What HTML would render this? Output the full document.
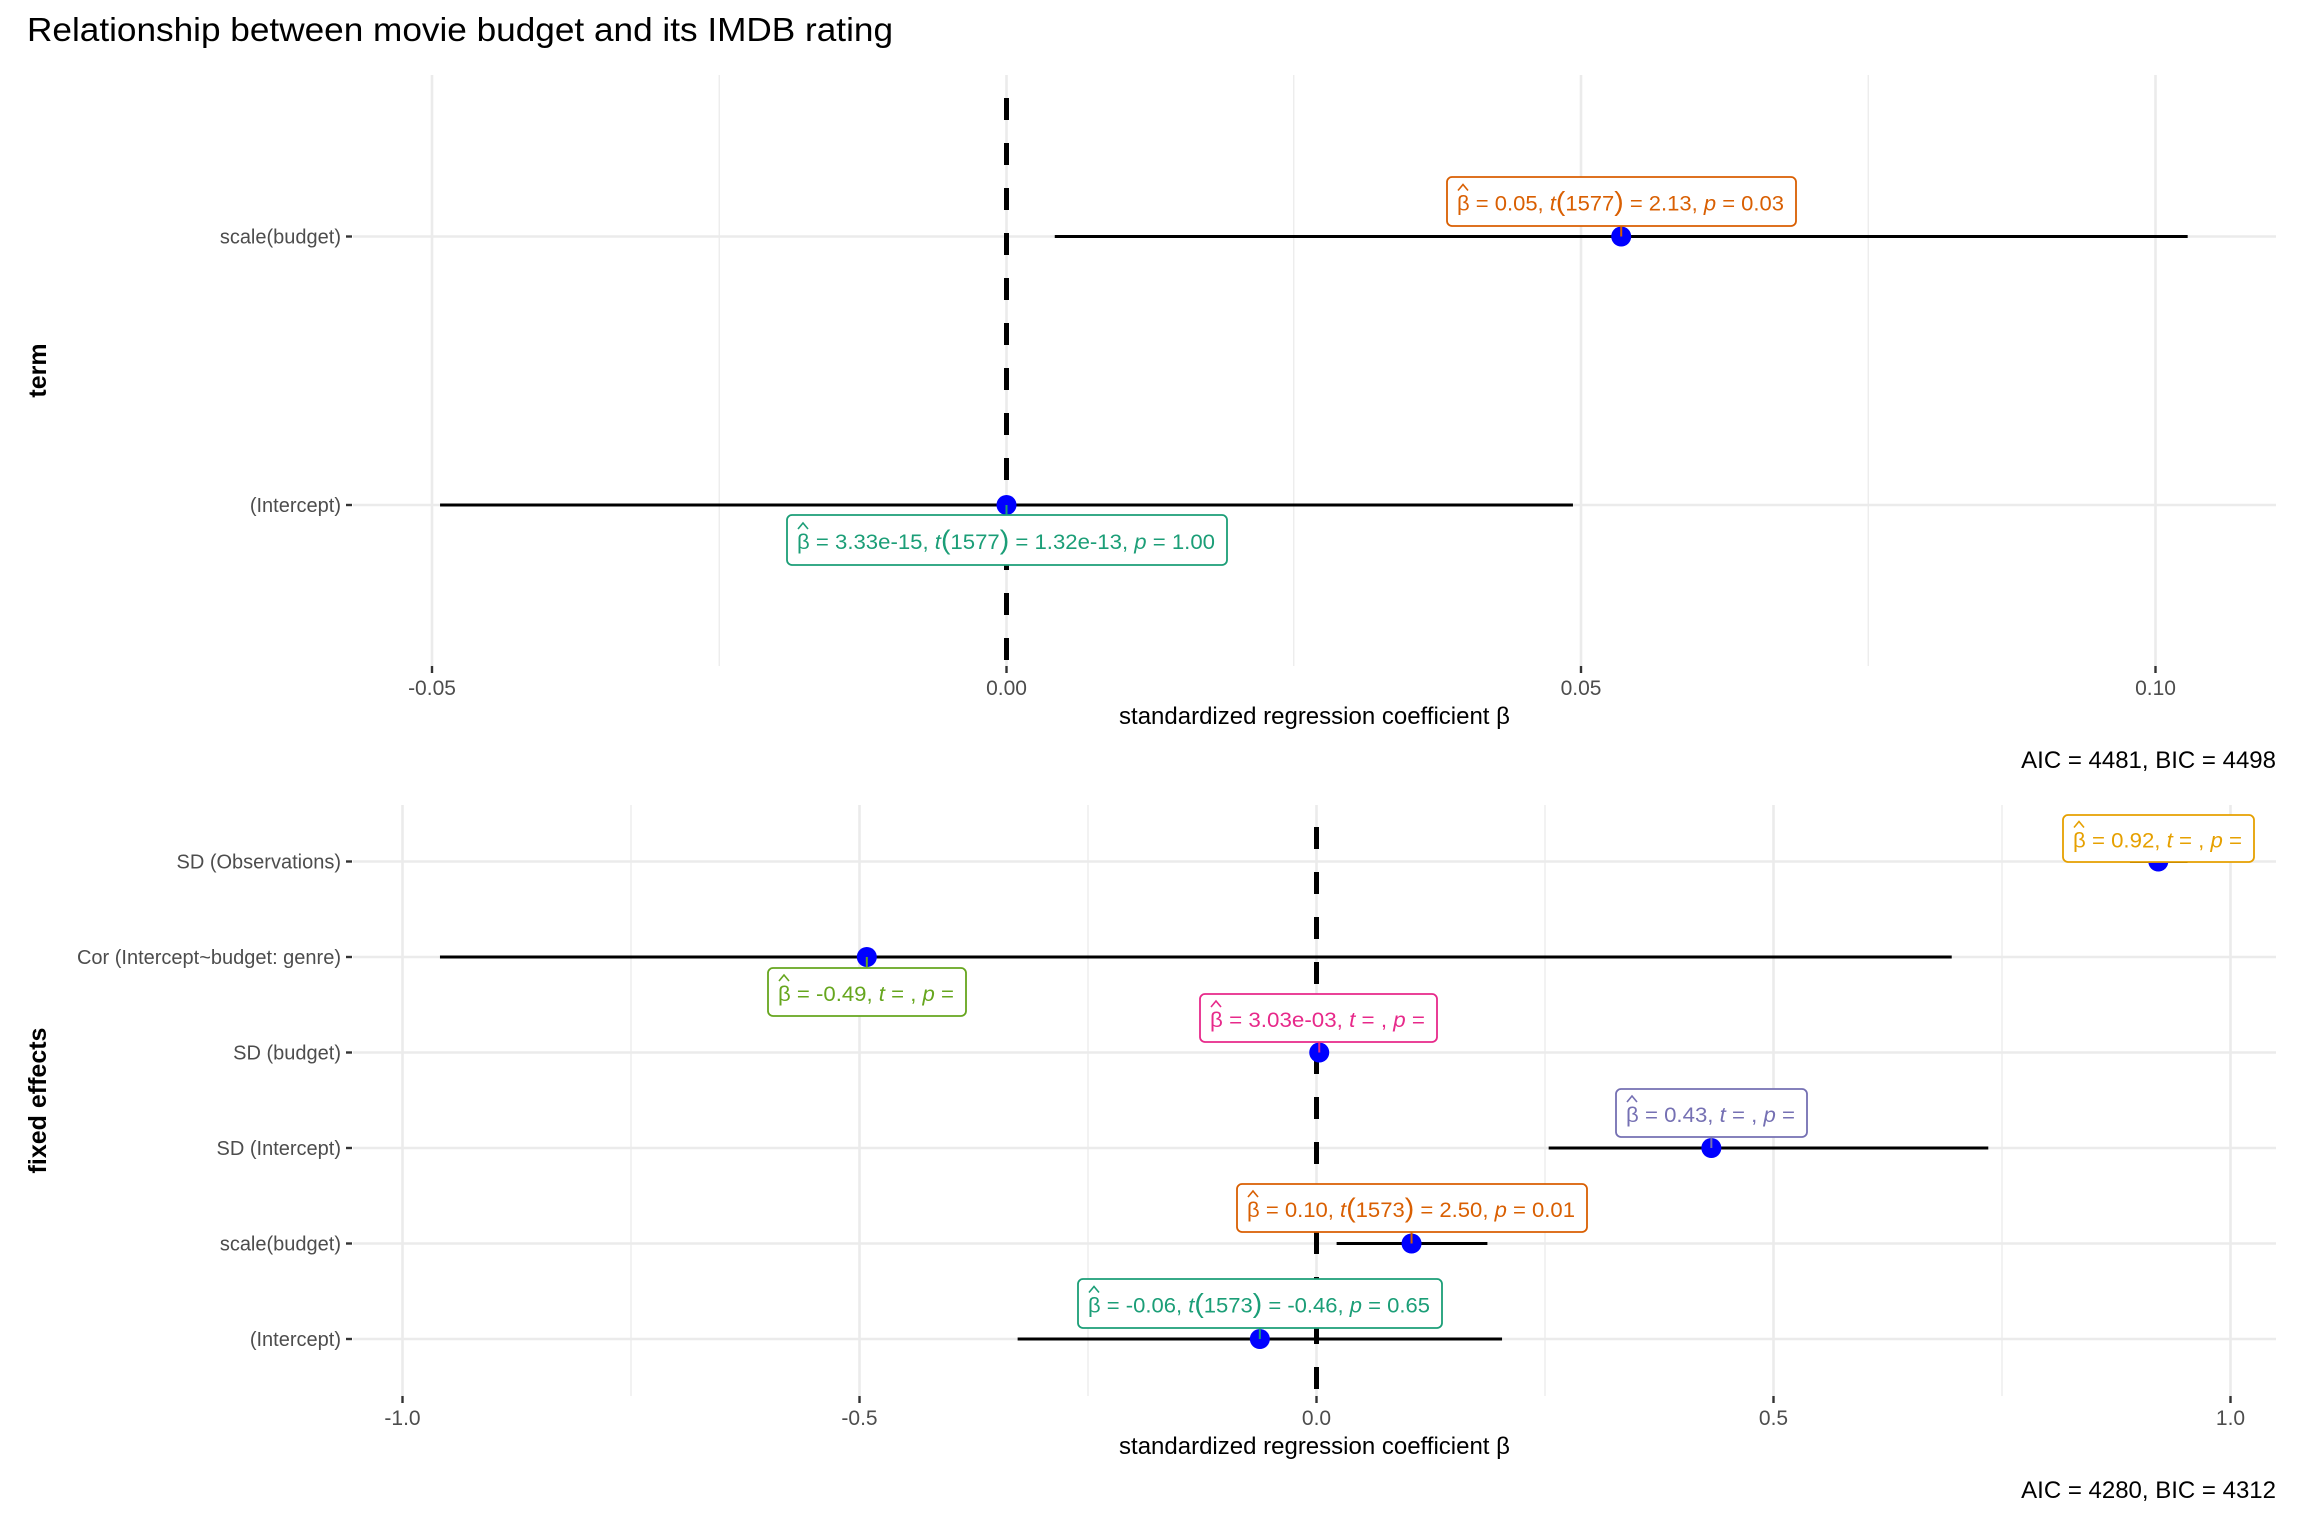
<!DOCTYPE html>
<html><head><meta charset="utf-8">
<style>
html,body{margin:0;padding:0;background:#fff;}
svg{display:block;font-family:"Liberation Sans",Arial,sans-serif;}
</style></head>
<body>
<svg id="chart" width="2304" height="1536" viewBox="0 0 2304 1536" xmlns="http://www.w3.org/2000/svg">
<text x="27" y="41" font-size="33" fill="#000" textLength="866" lengthAdjust="spacingAndGlyphs">Relationship between movie budget and its IMDB rating</text>
</svg>
<script>
// ---- Top panel data ----
const topTerms = ["scale(budget)", "(Intercept)"];
const topEst = [0.0535, 0.0];
const topLow = [0.0042, -0.0493];
const topHigh = [0.1028, 0.0493];
const topLabels = [
  {b:"0.05", t:"t", df:"(1577)", tv:"2.13", p:"0.03"},
  {b:"3.33e-15", t:"t", df:"(1577)", tv:"1.32e-13", p:"1.00"}
];
const topColors = ["#D95F02", "#1B9E77"];
const topTicks = [-0.05, 0.00, 0.05, 0.10];
const topTickLabels = ["-0.05", "0.00", "0.05", "0.10"];

// ---- Bottom panel data ----
const botTerms = ["SD (Observations)", "Cor (Intercept~budget: genre)", "SD (budget)", "SD (Intercept)", "scale(budget)", "(Intercept)"];
const botEst = [0.921, -0.492, 0.003, 0.432, 0.104, -0.062];
const botLow = [0.89, -0.959, 0.003, 0.254, 0.022, -0.327];
const botHigh = [0.953, 0.695, 0.003, 0.735, 0.187, 0.203];
const botLabels = [
  {b:"0.92", t:"t", df:"", tv:"", p:""},
  {b:"-0.49", t:"t", df:"", tv:"", p:""},
  {b:"3.03e-03", t:"t", df:"", tv:"", p:""},
  {b:"0.43", t:"t", df:"", tv:"", p:""},
  {b:"0.10", t:"t", df:"(1573)", tv:"2.50", p:"0.01"},
  {b:"-0.06", t:"t", df:"(1573)", tv:"-0.46", p:"0.65"}
];
const botColors = ["#E6A000", "#66A61E", "#E7298A", "#7570B3", "#D95F02", "#1B9E77"];
const botTicks = [-1.0, -0.5, 0.0, 0.5, 1.0];
const botTickLabels = ["-1.0", "-0.5", "0.0", "0.5", "1.0"];

const svg = document.getElementById('chart');
const NS = "http://www.w3.org/2000/svg";
function mk(tag, attrs, parent){
  const e = document.createElementNS(NS, tag);
  for (const k in attrs) e.setAttribute(k, attrs[k]);
  (parent||svg).appendChild(e);
  return e;
}

function drawPanel(cfg){
  const g = mk('g', {});
  
  
  const x = v => cfg.x0 + (v - cfg.v0) * cfg.pxPerUnit;
  const y = i => cfg.rowTop + i * cfg.rowStep;
  for (let i = 0; i < cfg.ticks.length - 1; i++){
    const m = (cfg.ticks[i] + cfg.ticks[i+1]) / 2;
    const l = mk('line', {x1:x(m), x2:x(m), y1:cfg.top, y2:cfg.bottom, stroke:'#EBEBEB', 'stroke-width':1.3}, g);
    
    
  }
  cfg.ticks.forEach((t, i) => {
    const l = mk('line', {x1:x(t), x2:x(t), y1:cfg.top, y2:cfg.bottom, stroke:'#EBEBEB', 'stroke-width':2.6}, g);
    
    
    const tk = mk('line', {x1:x(t), x2:x(t), y1:cfg.bottom, y2:cfg.bottom+7, stroke:'#333', 'stroke-width':2.4}, g);
    
    
    const tl = mk('text', {x:x(t), y:cfg.tickY, 'font-size':21, fill:'#4D4D4D', 'text-anchor':'middle'}, g);
    
    
    tl.textContent = cfg.tickLabels[i];
  });
  cfg.terms.forEach((term, i) => {
    const l = mk('line', {x1:cfg.left, x2:cfg.right, y1:y(i), y2:y(i), stroke:'#EBEBEB', 'stroke-width':2.6}, g);
    
    
    const tk = mk('line', {x1:cfg.left-7, x2:cfg.left-1, y1:y(i), y2:y(i), stroke:'#333', 'stroke-width':2.4}, g);
    
    
    const tl = mk('text', {x:cfg.left-12, y:y(i)+7, 'font-size':20, fill:'#4D4D4D', 'text-anchor':'end'}, g);
    
    
    tl.textContent = term;
  });
  const z = mk('line', {x1:x(0), x2:x(0), y1:cfg.dashTop, y2:cfg.bottom, stroke:'#000', 'stroke-width':5, 'stroke-dasharray':'22 23'}, g);
  
  
  cfg.terms.forEach((term, i) => {
    const ci = mk('line', {x1:x(cfg.low[i]), x2:x(cfg.high[i]), y1:y(i), y2:y(i), stroke:'#000', 'stroke-width':3}, g);
    
    
    const pt = mk('ellipse', {cx:x(cfg.est[i]), cy:y(i), rx:10, ry:10, fill:'#0000FF'}, g);
    
    
  });
  cfg.terms.forEach((term, i) => {
    const b = cfg.boxes[i];
    const L = cfg.labels[i];
    const c = cfg.colors[i];
    const bg = mk('g', {}, g);
    
    
    const seg = mk('line', {x1:x(cfg.est[i]), x2:x(cfg.est[i]), y1:y(i), y2:(b.y1 < y(i) ? b.y1+b.h : b.y1), stroke:c, 'stroke-width':2}, bg);
    
    
    const r = mk('rect', {x:b.x1, y:b.y1, width:b.w, height:b.h, rx:5, fill:'#fff', stroke:c, 'stroke-width':1.8}, bg);
    
    
    const base = b.y1+b.h/2+9;
    const hat = mk('path', {d:`M${b.x1+11} ${base-20} L${b.x1+16} ${base-26} L${b.x1+21} ${base-20}`, fill:'none', stroke:c, 'stroke-width':1.6}, bg);
    
    
    const t = mk('text', {x:b.x1+10, y:base, 'font-size':21, fill:c, textLength:b.w-22, lengthAdjust:'spacingAndGlyphs'}, bg);
    
    
    let s = `<tspan>β = ${L.b}, </tspan><tspan font-style="italic">t</tspan>`;
    if (L.df) s += `<tspan font-size="27">(</tspan><tspan>${L.df.replace(/[()]/g,'')}</tspan><tspan font-size="27">)</tspan>`;
    s += `<tspan> = ${L.tv}, </tspan><tspan font-style="italic">p</tspan><tspan> = ${L.p}</tspan>`;
    t.innerHTML = s;
  });
  const xt = mk('text', {x:(cfg.left+cfg.right)/2, y:cfg.xTitleY, 'font-size':24, fill:'#000', 'text-anchor':'middle'}, g);
  
  
  xt.textContent = 'standardized regression coefficient β';
  const cy = (cfg.top+cfg.bottom)/2;
  const yt = mk('text', {x:0, y:0, 'font-size':25, 'font-weight':'bold', fill:'#000', 'text-anchor':'middle', transform:`translate(46,${cy}) rotate(-90)`}, g);
  
  
  yt.textContent = cfg.yTitle;
  const cap = mk('text', {x:cfg.right, y:cfg.capY, 'font-size':24, fill:'#000', 'text-anchor':'end'}, g);
  
  
  cap.textContent = cfg.caption;
}

drawPanel({
  name:'top-panel', terms:topTerms, est:topEst, low:topLow, high:topHigh, labels:topLabels, colors:topColors,
  ticks:topTicks, tickLabels:topTickLabels,
  x0:1006.5, v0:0, pxPerUnit:11490, left:353, right:2276, top:75, bottom:666, dashTop:98,
  rowTop:236.5, rowStep:268.5, tickY:695, xTitleY:724, capY:768, yTitle:'term', caption:'AIC = 4481, BIC = 4498',
  boxes:[{x1:1447,y1:177,w:349,h:49},{x1:787,y1:515,w:440,h:50}]
});
drawPanel({
  name:'bottom-panel', terms:botTerms, est:botEst, low:botLow, high:botHigh, labels:botLabels, colors:botColors,
  ticks:botTicks, tickLabels:botTickLabels,
  x0:1316.5, v0:0, pxPerUnit:914, left:353, right:2276, top:805, bottom:1396, dashTop:827,
  rowTop:861.5, rowStep:95.5, tickY:1425, xTitleY:1454, capY:1498, yTitle:'fixed effects', caption:'AIC = 4280, BIC = 4312',
  boxes:[
    {x1:2063,y1:815,w:191,h:47},
    {x1:768,y1:968,w:198,h:48},
    {x1:1200,y1:994,w:237,h:48},
    {x1:1616,y1:1089,w:191,h:48},
    {x1:1237,y1:1184,w:350,h:48},
    {x1:1078,y1:1279,w:364,h:49}
  ]
});
</script>
</body></html>
